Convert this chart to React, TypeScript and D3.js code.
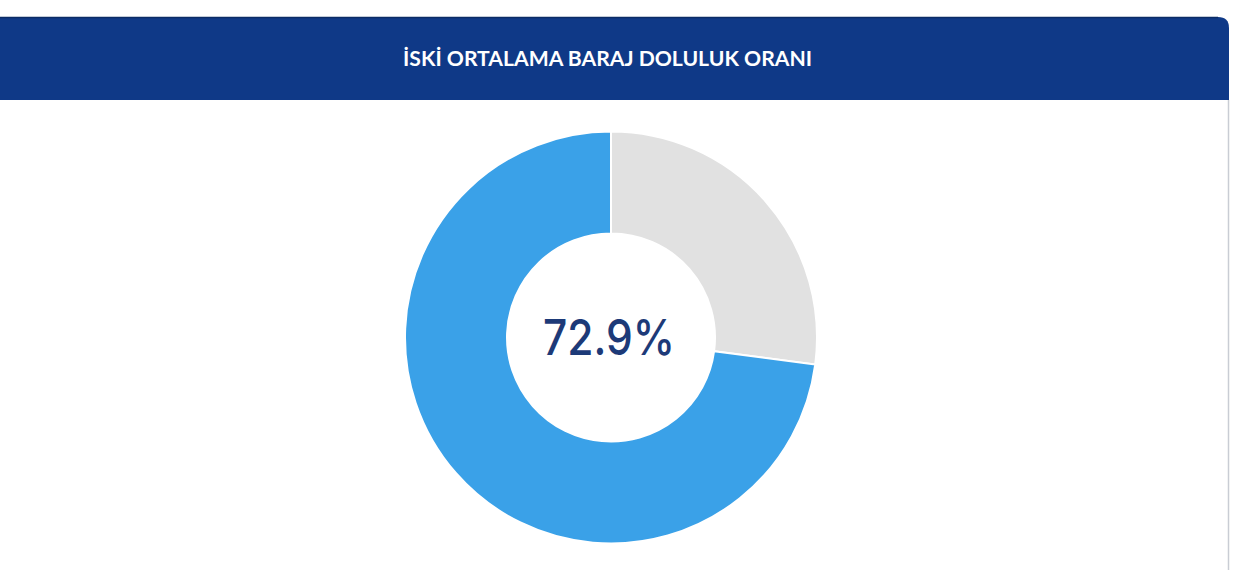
import { useMemo } from "react";
import * as d3 from "d3";

// Slices drawn clockwise from 12 o'clock
const categories = ["Boş", "Dolu"];
const values = [27.1, 72.9];
const colors = ["#e1e1e1", "#3aa1e8"];
const title = "İSKİ ORTALAMA BARAJ DOLULUK ORANI";
const centerLabel = `${values[1].toFixed(1)}%`;

const width = 1245;
const height = 570;

export default function App() {
  const cx = 611;
  const cy = 337.5;
  const outer = 206;
  const inner = 104;

  const slices = useMemo(() => {
    const pie = d3
      .pie<number>()
      .value((d) => d)
      .sort(null);
    return pie(values);
  }, []);

  const arc = d3
    .arc<d3.PieArcDatum<number>>()
    .innerRadius(inner)
    .outerRadius(outer);

  // header: rounded top-right corner, card continues left off-screen
  const hx0 = -20;
  const hx1 = 1229;
  const hy0 = 17;
  const hy1 = 100;
  const r = 11;
  const headerPath = `M${hx0},${hy0} H${hx1 - r} Q${hx1},${hy0} ${hx1},${hy0 + r} V${hy1} H${hx0} Z`;

  return (
    <svg
      width={width}
      height={height}
      style={{ position: "absolute", left: 0, top: 0, background: "#fff" }}
    >
      <rect x={0} y={0} width={width} height={height} fill="#ffffff" />
      {/* card border */}
      <line x1={1228.5} x2={1228.5} y1={hy1} y2={height} stroke="#c9cdd4" strokeWidth={1.5} />
      <path d={headerPath} fill="#0f3987" />
      <line x1={hx0} x2={hx1 - r} y1={hy0 + 0.5} y2={hy0 + 0.5} stroke="#0b2c66" strokeWidth={1.5} />
      <text
        x={607.5}
        y={66}
        textAnchor="middle"
        fill="#ffffff"
        textLength={409}
        lengthAdjust="spacingAndGlyphs"
        style={{ fontFamily: "Lato, 'Open Sans', sans-serif", fontWeight: 700, fontSize: 20 }}
      >
        {title}
      </text>
      <g transform={`translate(${cx},${cy})`}>
        {slices.map((s, i) => (
          <path
            key={categories[i]}
            d={arc(s) ?? ""}
            fill={colors[i]}
            stroke="#ffffff"
            strokeWidth={2}
          />
        ))}
      </g>
      <text
        x={609}
        y={355}
        textAnchor="middle"
        fill="#1d3a78"
        textLength={132}
        lengthAdjust="spacingAndGlyphs"
        style={{ fontFamily: "Inter, Lato, sans-serif", fontWeight: 500, fontSize: 50 }}
      >
        {centerLabel}
      </text>
    </svg>
  );
}
